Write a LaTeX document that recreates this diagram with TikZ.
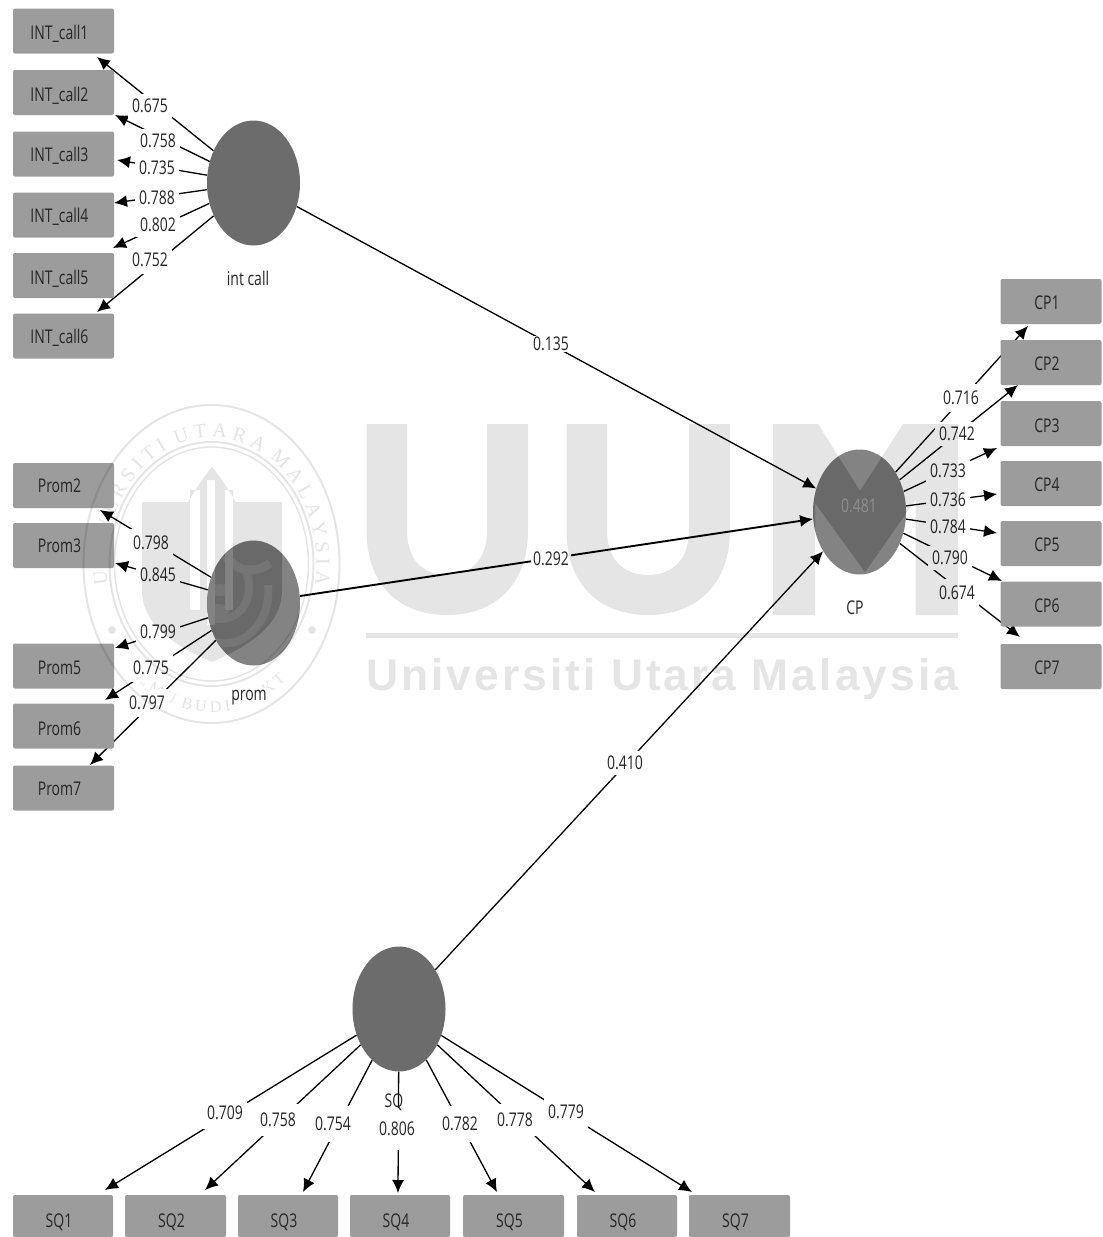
\documentclass[tikz,border=0pt]{standalone}
\usepackage{fontspec}
\usepackage{graphicx}
\setmainfont{Open Sans}
\newfontfamily\wmserif{Liberation Serif}
\newfontfamily\wmsans[LetterSpace=7]{Liberation Sans Bold}
\usetikzlibrary{shapes.geometric,arrows.meta,backgrounds,decorations.text}
\definecolor{boxgray}{HTML}{9C9C9C}
\definecolor{lvdark}{HTML}{6C6C6C}
\definecolor{lvlight}{HTML}{838383}
\newcommand{\tl}[1]{\scalebox{1}[1.35]{#1}}
% box caption: slightly left of centre and lowered, as in the reference
\newcommand{\bl}[2][-2pt]{\raisebox{#1}[\height][\depth]{\hspace*{-8pt}\scalebox{1}[1.35]{#2}}}
\newcommand{\wmshapes}{%
  \fill (366.5,424) -- (407,424) -- (407,530) .. controls (407,562) and (425,575) .. (447,575) .. controls (469,575) and (487,562) .. (487,530) -- (487,424) -- (528,424) -- (528,530) .. controls (528,585) and (495,615) .. (447,615) .. controls (399,615) and (366.5,585) .. (366.5,530) -- cycle;
  \fill (566.5,424) -- (607,424) -- (607,530) .. controls (607,562) and (626,575) .. (648,575) .. controls (670,575) and (689,562) .. (689,530) -- (689,424) -- (730,424) -- (730,530) .. controls (730,585) and (696,615) .. (648,615) .. controls (600,615) and (566.5,585) .. (566.5,530) -- cycle;
  \fill (773,424) -- (818,424) -- (860,491) -- (903,424) -- (958,424) -- (958,615) -- (915.5,615) -- (915.5,500) -- (865,572) -- (815,503) -- (815,615) -- (773,615) -- cycle;
}
\newcommand{\wmshield}{%
  \fill[even odd rule] (142,502) -- (188,502) .. controls (195,490) and (205,475) .. (212,467) .. controls (219,475) and (229,490) .. (236,502) -- (282,502) -- (282,590) .. controls (282,625) and (250,645) .. (212,662) .. controls (174,645) and (142,625) .. (142,590) -- cycle
  (190,490) rectangle (200,610) (207,480) rectangle (215,625) (225,490) rectangle (233,610);
}
\tikzset{
  obsbox/.style={rectangle,rounded corners=2pt,fill=boxgray,minimum width=101pt,minimum height=45pt,inner sep=0pt,text=black!85},
  latent/.style={ellipse,fill=lvdark,minimum width=93pt,minimum height=125pt,inner sep=0pt},
  loading/.style={fill=white,inner sep=0pt,minimum width=44pt,minimum height=24pt,text=black!85},
  plain/.style={inner sep=0pt,text=black!85},
  conn/.style={draw=black,line width=1.3pt,-{Latex[length=13pt,width=12pt]}},
  thickconn/.style={conn,line width=1.9pt}
}
\begin{document}
\begin{tikzpicture}[x=1pt,y=-1pt,font=\fontsize{14}{16}\selectfont]
\useasboundingbox (0,0) rectangle (1103,1237);
% boxes
\node[obsbox] (i1) at (63.5,31) {\bl[-3pt]{INT\_call1}};
\node[obsbox] (i2) at (63.5,92.5) {\bl[-3pt]{INT\_call2}};
\node[obsbox] (i3) at (63.5,154) {\bl{INT\_call3}};
\node[obsbox] (i4) at (63.5,215) {\bl{INT\_call4}};
\node[obsbox] (i5) at (63.5,275.5) {\bl[-3pt]{INT\_call5}};
\node[obsbox] (i6) at (63.5,336) {\bl{INT\_call6}};
\node[obsbox] (p2) at (63.5,485.5) {\bl[0pt]{Prom2}};
\node[obsbox] (p3) at (63.5,545.5) {\bl[0pt]{Prom3}};
\node[obsbox] (p5) at (63.5,666) {\bl{Prom5}};
\node[obsbox] (p6) at (63.5,726) {\bl[-3pt]{Prom6}};
\node[obsbox] (p7) at (63.5,788) {\bl[-1pt]{Prom7}};
\node[obsbox] (c1) at (1051,301.5) {\bl[-1pt]{CP1}};
\node[obsbox] (c2) at (1051,362.5) {\bl[-1pt]{CP2}};
\node[obsbox] (c3) at (1051,423.5) {\bl{CP3}};
\node[obsbox] (c4) at (1051,483.5) {\bl[-1pt]{CP4}};
\node[obsbox] (c5) at (1051,543.5) {\bl[-1pt]{CP5}};
\node[obsbox] (c6) at (1051,604) {\bl{CP6}};
\node[obsbox] (c7) at (1051,666.5) {\bl[-1pt]{CP7}};
\node[obsbox,minimum width=100pt,minimum height=42pt] (s1) at (63,1216) {\bl[-6pt]{SQ1}};
\node[obsbox,minimum width=101pt,minimum height=42pt] (s2) at (175.5,1216) {\bl[-6pt]{SQ2}};
\node[obsbox,minimum width=100pt,minimum height=42pt] (s3) at (288,1216) {\bl[-6pt]{SQ3}};
\node[obsbox,minimum width=100pt,minimum height=42pt] (s4) at (400,1216) {\bl[-6pt]{SQ4}};
\node[obsbox,minimum width=101pt,minimum height=42pt] (s5) at (513.5,1216) {\bl[-6pt]{SQ5}};
\node[obsbox,minimum width=100pt,minimum height=42pt] (s6) at (627,1216) {\bl[-6pt]{SQ6}};
\node[obsbox,minimum width=101pt,minimum height=42pt] (s7) at (739.5,1216) {\bl[-6pt]{SQ7}};
% latent variables
\node[latent] (int) at (253.5,183) {};
\node[latent,fill=lvlight] (prom) at (253.5,603) {};
\node[latent,fill=lvlight] (cp) at (859.5,512) {};
\node[latent] (sq) at (399,1009) {};
% arrow ends
\coordinate (ti1) at (97,57); \coordinate (ti2) at (115,115); \coordinate (ti3) at (117,160);
\coordinate (ti4) at (114,203); \coordinate (ti5) at (113,248); \coordinate (ti6) at (97,312);
\coordinate (tp2) at (100,510); \coordinate (tp3) at (115,563); \coordinate (tp5) at (115,648);
\coordinate (tp6) at (105,700); \coordinate (tp7) at (90,765);
\coordinate (tc1) at (1028,326); \coordinate (tc2) at (1018,385); \coordinate (tc3) at (997,448);
\coordinate (tc4) at (997,494); \coordinate (tc5) at (997,533); \coordinate (tc6) at (1002,581);
\coordinate (tc7) at (1020,637);
\coordinate (ts1) at (105,1190); \coordinate (ts2) at (205,1190); \coordinate (ts3) at (303,1192);
\coordinate (ts4) at (398,1193); \coordinate (ts5) at (497,1192); \coordinate (ts6) at (595,1192);
\coordinate (ts7) at (692,1192);
% loadings
\node[loading] at (150,106) {\tl{0.675}};
\node[loading] at (158,141) {\tl{0.758}};
\node[loading] at (157,168) {\tl{0.735}};
\node[loading] at (157,198) {\tl{0.788}};
\node[loading] at (158,225) {\tl{0.802}};
\node[loading,minimum height=28pt] at (150,260) {\tl{0.752}};
\node[loading,minimum height=28pt] at (151,543) {\tl{0.798}};
\node[loading] at (158,575) {\tl{0.845}};
\node[loading] at (158,632) {\tl{0.799}};
\node[loading,minimum height=28pt] at (151,668) {\tl{0.775}};
\node[loading,minimum height=28pt] at (147,703) {\tl{0.797}};
\node[loading,minimum height=28pt] at (961,398) {\tl{0.716}};
\node[loading] at (957,434) {\tl{0.742}};
\node[loading] at (948,471) {\tl{0.733}};
\node[loading,minimum height=20pt] at (948,500) {\tl{0.736}};
\node[loading,minimum height=20pt] at (948,527) {\tl{0.784}};
\node[loading] at (950,558) {\tl{0.790}};
\node[loading,minimum height=28pt] at (957,593) {\tl{0.674}};
\node[loading,minimum height=32pt] at (225,1113) {\tl{0.709}};
\node[loading,minimum height=32pt] at (278,1120) {\tl{0.758}};
\node[loading,minimum height=36pt] at (333,1124) {\tl{0.754}};
\node[loading,minimum height=42pt] at (397,1129) {\tl{0.806}};
\node[loading,minimum height=36pt] at (460,1124) {\tl{0.782}};
\node[loading,minimum height=32pt] at (515,1120) {\tl{0.778}};
\node[loading,minimum height=32pt] at (566,1112) {\tl{0.779}};
\node[loading,minimum width=40pt,minimum height=16pt] at (551,344) {\tl{0.135}};
\node[loading,minimum width=40pt,minimum height=16pt] at (551,559) {\tl{0.292}};
\node[loading,minimum width=40pt,minimum height=24pt] at (625,763) {\tl{0.410}};
% names
\node[plain] at (248,278) {\tl{int call}};
\node[plain,fill=white,inner xsep=3pt,inner ysep=3pt] at (249,698) {\tl{prom}};
\node[plain] at (855,608) {\tl{CP}};
\node[plain] at (394,1102) {\tl{SQ}};
\node[plain,text=black!30] at (859,506) {\tl{0.481}};
% connectors and seal lettering behind everything
\begin{pgfonlayer}{background}
\fill[white] (0,0) rectangle (1103,1237);
\begin{scope}[y=1pt]
\path[decorate,decoration={text along path,text align=center,text={|\fontsize{20}{22}\wmserif\color{black!10}|U N I V E R S I T I{ }{ }U T A R A{ }{ }M A L A Y S I A}}]
  (110.1,-596.9) arc [start angle=195,end angle=-15,x radius=105,y radius=127];
\path[decorate,decoration={text along path,text align=center,text={|\fontsize{16}{18}\wmserif\color{black!10}|I L M U{ }{ }B U D I{ }{ }B A K T I}}]
  (132.8,-675.7) arc [start angle=229,end angle=311,x radius=120,y radius=148];
\end{scope}
\foreach \t in {ti1,ti2,ti3,ti4,ti5,ti6} \draw[conn] (int) -- (\t);
\foreach \t in {tp2,tp3,tp5,tp6,tp7} \draw[conn] (prom) -- (\t);
\foreach \t in {tc1,tc2,tc3,tc4,tc5,tc6,tc7} \draw[conn] (cp) -- (\t);
\foreach \t in {ts1,ts2,ts3,ts4,ts5,ts6,ts7} \draw[conn] (sq) -- (\t);
\draw[conn] (int) -- (cp);
\draw[thickconn] (prom) -- (cp);
\draw[conn] (sq) -- (cp);
\end{pgfonlayer}
% extra darkening of the watermark where it crosses the latent ellipses
\begin{scope}
\clip (859.5,512) ellipse [x radius=46.5, y radius=62.5];
\begin{scope}[black,opacity=.1] \wmshapes \end{scope}
\end{scope}
\begin{scope}
\clip (253.5,603) ellipse [x radius=46.5, y radius=62.5];
\begin{scope}[black,opacity=.1] \wmshield \end{scope}
\draw[lvlight,line width=9pt] (226,556) .. controls (240,577) and (262,570) .. (270,563);
\draw[lvlight,line width=8pt] (246,570) .. controls (256,600) and (240,625) .. (208,618);
\draw[lvlight,line width=8pt] (268,585) .. controls (272,625) and (240,650) .. (215,642);
\fill[lvlight] (220,590) ellipse [x radius=12, y radius=6];
\fill[lvlight] (218,610) ellipse [x radius=12, y radius=6];
\end{scope}
% watermark
\begin{scope}[black,opacity=.1]
\wmshapes
\fill (366,633) rectangle (958,638);
\begin{scope}
\clip (360,640) rectangle (958,710);
\node[anchor=base west,inner sep=0pt] at (366,690) {\resizebox{592pt}{!}{\fontsize{40}{44}\wmsans Universiti Utara Malaysia}};
\end{scope}
\wmshield
\draw[line width=2pt] (211.5,564) ellipse [x radius=128, y radius=159];
\draw[line width=2pt] (211.5,564) ellipse [x radius=102, y radius=122];
\draw[line width=1.5pt] (211.5,564) ellipse [x radius=97, y radius=117];
\fill (112,630) circle [radius=4];
\fill (312,630) circle [radius=4];
\end{scope}
\end{tikzpicture}
\end{document}
